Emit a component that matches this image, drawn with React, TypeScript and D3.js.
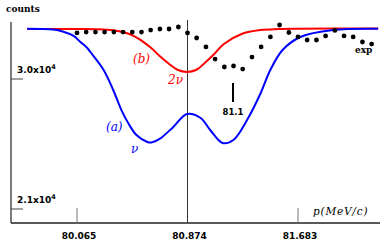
import React from "react";
import * as d3 from "d3";

// momentum (MeV/c) tick labels and count ticks
const xTicks = [80.065, 80.874, 81.683];
const yTicks = [30000, 21000];
const yTickLabels = ["3.0x10", "2.1x10"];

// experimental points
const expP = [80.065, 80.132, 80.2, 80.267, 80.335, 80.402, 80.47, 80.537, 80.604, 80.672, 80.739, 80.807,
  80.874, 80.941, 81.009, 81.076, 81.144, 81.211, 81.278, 81.346, 81.413, 81.481, 81.548, 81.616,
  81.683, 81.75, 81.818, 81.885, 81.953, 82.02, 82.087, 82.155, 82.222];
const expCounts = [33190, 33250, 33250, 33250, 33250, 33250, 33250, 33250, 33390, 33460, 33460, 33600,
  33190, 32840, 32220, 31380, 30830, 30900, 30690, 31520, 32220, 32910, 33740, 33220,
  32910, 32700, 32700, 32980, 33360, 32980, 32910, 32560, 32420];

// (a) nu curve
const aP = [79.7, 79.89, 79.96, 80.04, 80.09, 80.14, 80.18, 80.26, 80.33, 80.39, 80.44, 80.5, 80.58, 80.61,
  80.67, 80.77, 80.87, 80.97, 81.04, 81.13, 81.21, 81.31, 81.41, 81.48, 81.57, 81.7, 81.94, 82.27];
const aCounts = [33480, 33420, 33290, 32980, 32560, 32150, 31660, 30620, 29240, 27850, 26950, 26120, 25640, 25600,
  25850, 26680, 27580, 27300, 26470, 25570, 25780, 27160, 29030, 30620, 32010, 32910, 33390, 33480];

// (b) 2nu curve
const bP = [79.7, 80.07, 80.2, 80.33, 80.47, 80.6, 80.67, 80.74, 80.8, 80.87, 80.94, 81.0, 81.07, 81.14,
  81.27, 81.41, 81.54, 81.68, 82.27];
const bCounts = [33460, 33460, 33450, 33370, 33030, 32215, 31590, 31040, 30640, 30485, 30640, 31110, 31730, 32420,
  33115, 33390, 33460, 33480, 33500];

const W = 382, H = 245;

export default function App() {
  const x = d3.scaleLinear().domain([80.065, 81.683]).range([77, 298]);
  const y = d3.scaleLinear().domain([21000, 30000]).range([209, 79]);
  const axisY = 223, axisX = 11;

  const line = d3.line<[number, number]>()
    .x(d => x(d[0]))
    .y(d => y(d[1]))
    .curve(d3.curveCatmullRom.alpha(0.5));

  const aPath = line(aP.map((p, i) => [p, aCounts[i]]) as [number, number][]) || "";
  const bPath = line(bP.map((p, i) => [p, bCounts[i]]) as [number, number][]) || "";

  const bold = { fontFamily: "DejaVu Sans", fontWeight: "bold" as const, fontSize: 9 };
  const serifB = { fontFamily: "DejaVu Serif", fontWeight: "bold" as const, fontSize: 9 };
  const ital = { fontFamily: "DejaVu Serif", fontStyle: "italic" as const, fontSize: 12 };

  return (
    <svg width={W} height={H} style={{ position: "absolute", left: 0, top: 0, background: "#fff" }}>
      {/* axes */}
      <line x1={axisX} x2={axisX} y1={22} y2={axisY} stroke="#333" strokeWidth={1.3} />
      <line x1={axisX} x2={380} y1={axisY} y2={axisY} stroke="#222" strokeWidth={1.6} />
      {/* y ticks */}
      {yTicks.map((t, i) => (
        <g key={t}>
          <line x1={axisX} x2={axisX + 12} y1={y(t)} y2={y(t)} stroke="#444" strokeWidth={1} />
          <text x={17} y={y(t) - 6} {...bold}>
            {yTickLabels[i]}
            <tspan dy={-4} fontSize={6.5}>4</tspan>
          </text>
        </g>
      ))}
      {/* x ticks */}
      {xTicks.map((t, i) => (
        <g key={t}>
          <line x1={x(t)} x2={x(t)} y1={i === 1 ? 20 : axisY - 15} y2={axisY}
            stroke={i === 1 ? "#333" : "#777"} strokeWidth={1} />
          <text x={x(t) + 2} y={239} textAnchor="middle" {...bold}>{t.toFixed(3)}</text>
        </g>
      ))}
      <text x={6} y={12} {...serifB}>counts</text>
      <text x={313} y={215} {...ital} fontSize={10.5} letterSpacing={0.8}>p(MeV/c)</text>

      {/* curves */}
      <path d={bPath} fill="none" stroke="#ff0000" strokeWidth={2} />
      <path d={aPath} fill="none" stroke="#0000ff" strokeWidth={2} />

      {/* experimental points */}
      {expP.map((p, i) => (
        <circle key={i} cx={x(p)} cy={y(expCounts[i])} r={2.4} fill="#000" />
      ))}

      {/* annotations */}
      <text x={133} y={63} {...ital} fill="#ff0000">(b)</text>
      <text x={168} y={84} {...ital} fill="#ff0000">2ν</text>
      <text x={106} y={131} {...ital} fill="#0000ff">(a)</text>
      <text x={131} y={153} {...ital} fill="#0000ff">ν</text>
      <text x={355} y={53} {...serifB}>exp</text>
      <line x1={x(81.207)} x2={x(81.207)} y1={83} y2={102} stroke="#000" strokeWidth={2} />
      <text x={x(81.207)} y={115} textAnchor="middle" {...bold} fontSize={8.5}>81.1</text>
    </svg>
  );
}
